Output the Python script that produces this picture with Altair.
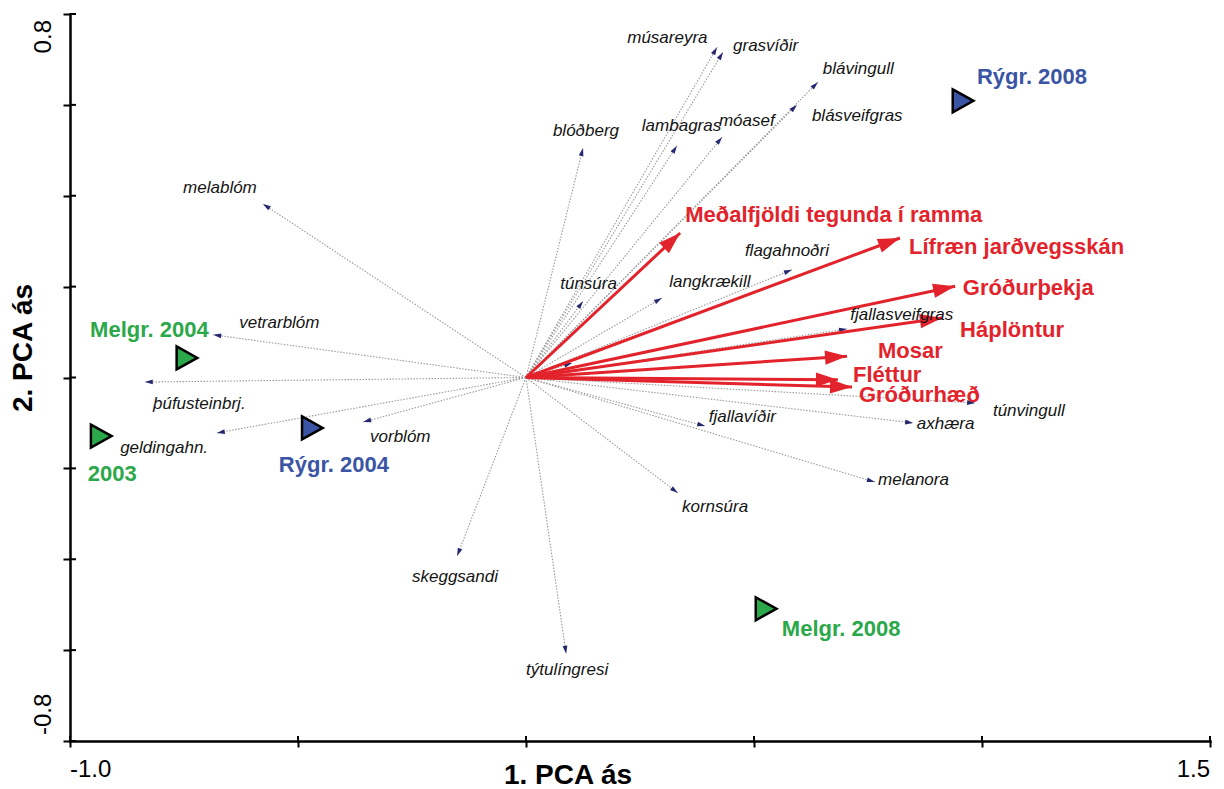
import math
import altair as alt
import pandas as pd

# ---- layout of the plot area -------------------------------------------
PLOT_W, PLOT_H = 1140, 727
X_DOMAIN = [-1.0, 1.5]
Y_DOMAIN = [-0.8, 0.8]
X_TICKS = [-1.0, -0.5, 0.0, 0.5, 1.0, 1.5]
Y_TICKS = [-0.8, -0.6, -0.4, -0.2, 0.0, 0.2, 0.4, 0.6, 0.8]

# ---- species vectors (tips) and where their names sit -------------------
species = ["músareyra", "grasvíðir", "blávingull", "blásveifgras", "blóðberg",
           "lambagras", "móasef", "melablóm", "flagahnoðri", "túnsúra",
           "langkrækill", "", "fjallasveifgras", "vetrarblóm", "þúfusteinbrj.",
           "geldingahn.", "vorblóm", "túnvingull", "axhæra", "fjallavíðir",
           "melanora", "kornsúra", "skeggsandi", "týtulíngresi"]
species_x = [0.419, 0.432, 0.640, 0.594, 0.125,
             0.331, 0.430, -0.577, 0.583, 0.125,
             0.298, 0.101, 0.704, -0.686, -0.836,
             -0.678, -0.357, 0.985, 0.849, 0.393,
             0.765, 0.333, -0.151, 0.088]
species_y = [0.727, 0.716, 0.650, 0.600, 0.505,
             0.510, 0.529, 0.382, 0.237, 0.168,
             0.175, 0.032, 0.107, 0.094, -0.010,
             -0.122, -0.098, -0.056, -0.100, -0.107,
             -0.230, -0.254, -0.393, -0.608]
species_label_x = [0.222, 0.454, 0.651, 0.627, 0.059,
                   0.254, 0.423, -0.752, 0.480, 0.075,
                   0.314, 0.101, 0.711, -0.629, -0.818,
                   -0.890, -0.342, 1.024, 0.857, 0.401,
                   0.772, 0.342, -0.250, 0.000]
species_label_y = [0.747, 0.730, 0.679, 0.576, 0.543,
                   0.554, 0.565, 0.417, 0.278, 0.206,
                   0.210, 0.032, 0.138, 0.120, -0.058,
                   -0.155, -0.131, -0.074, -0.102, -0.087,
                   -0.226, -0.285, -0.439, -0.644]

# ---- environmental variables -------------------------------------------
env_vars = ["Meðalfjöldi tegunda í ramma", "Lífræn jarðvegsskán", "Gróðurþekja",
            "Háplöntur", "Mosar", "Fléttur", "Gróðurhæð"]
env_x = [0.338, 0.820, 0.941, 0.912, 0.704, 0.684, 0.715]
env_y = [0.318, 0.307, 0.201, 0.131, 0.047, -0.005, -0.021]
env_label_x = [0.349, 0.840, 0.958, 0.952, 0.772, 0.717, 0.730]
env_label_y = [0.358, 0.287, 0.197, 0.105, 0.058, 0.006, -0.038]

# ---- sample scores ------------------------------------------------------
samples = ["Melgr. 2004", "2003", "Rýgr. 2004", "Melgr. 2008", "Rýgr. 2008"]
sample_group = ["Melgr.", "Melgr.", "Rýgr.", "Melgr.", "Rýgr."]
sample_x = [-0.746, -0.934, -0.471, 0.524, 0.956]
sample_y = [0.043, -0.129, -0.111, -0.509, 0.609]
sample_label_x = [-0.956, -0.961, -0.542, 0.561, 0.989]
sample_label_y = [0.105, -0.212, -0.193, -0.553, 0.661]

# ---- styling -------------------------------------------------------------
FONT = "Liberation Sans"
RED = "#e3232b"
GREEN = "#2ba84a"
BLUE = "#3a55a4"
NAVY = "#25286f"
GREY = "#9a9a9a"
ARROW_PATH = "M0,0L0.65,2L-0.65,2Z"        # tip sits on the data point
SMALL_ARROW_PATH = "M0,0L0.6,2L-0.6,2Z"
SAMPLE_PATH = "M-0.8,-1L1,0L-0.8,1Z"       # right-pointing triangle

xs = alt.Scale(domain=X_DOMAIN, nice=False, zero=False)
ys = alt.Scale(domain=Y_DOMAIN, nice=False, zero=False)
x_axis = alt.Axis(values=X_TICKS, labels=False, title=None, grid=False,
                  domainColor="black", domainWidth=2.5, domainCap="square",
                  tickColor="black", tickWidth=2, tickSize=6)
y_axis = alt.Axis(values=Y_TICKS, labels=False, title=None, grid=False,
                  domainColor="black", domainWidth=2.5, domainCap="square",
                  tickColor="black", tickWidth=2, tickSize=7)


def X(field):
    return alt.X(field, type="quantitative", scale=xs, axis=x_axis)


def Y(field):
    return alt.Y(field, type="quantitative", scale=ys, axis=y_axis)


def heading(x, y):
    """Clockwise screen angle (deg) of a vector drawn from the origin."""
    px = x * PLOT_W / (X_DOMAIN[1] - X_DOMAIN[0])
    py = y * PLOT_H / (Y_DOMAIN[1] - Y_DOMAIN[0])
    return math.degrees(math.atan2(px, py)) % 360


sp = pd.DataFrame({"name": species, "x": species_x, "y": species_y,
                   "lx": species_label_x, "ly": species_label_y})
sp["x0"] = 0.0
sp["y0"] = 0.0
sp["angle"] = [heading(a, b) for a, b in zip(sp.x, sp.y)]

env = pd.DataFrame({"name": env_vars, "x": env_x, "y": env_y,
                    "lx": env_label_x, "ly": env_label_y})
env["x0"] = 0.0
env["y0"] = 0.0
env["angle"] = [heading(a, b) for a, b in zip(env.x, env.y)]

smp = pd.DataFrame({"name": samples, "group": sample_group, "x": sample_x,
                    "y": sample_y, "lx": sample_label_x, "ly": sample_label_y})
group_scale = alt.Scale(domain=["Melgr.", "Rýgr."], range=[GREEN, BLUE])

# species vectors: dotted lines with small dark heads
sp_lines = alt.Chart(sp).mark_rule(color=GREY, strokeWidth=1.1,
                                   strokeDash=[1.5, 1.5]).encode(
    x=X("x0"), y=Y("y0"), x2=alt.X2("x"), y2=alt.Y2("y"))
sp_heads = alt.Chart(sp).mark_point(shape=SMALL_ARROW_PATH, size=64, filled=True,
                                    color=NAVY, opacity=1).encode(
    x=X("x"), y=Y("y"), angle=alt.Angle("angle:Q", scale=None))
sp_text = alt.Chart(sp).mark_text(align="left", baseline="middle", font=FONT,
                                  fontStyle="italic", fontSize=17,
                                  color="#141414").encode(
    x=X("lx"), y=Y("ly"), text="name:N")

# environmental vectors: red arrows
env_lines = alt.Chart(env).mark_rule(color=RED, strokeWidth=3).encode(
    x=X("x0"), y=Y("y0"), x2=alt.X2("x"), y2=alt.Y2("y"))
env_heads = alt.Chart(env).mark_point(shape=ARROW_PATH, size=484, filled=True,
                                      color=RED, opacity=1).encode(
    x=X("x"), y=Y("y"), angle=alt.Angle("angle:Q", scale=None))
env_text = alt.Chart(env).mark_text(align="left", baseline="middle", font=FONT,
                                    fontWeight="bold", fontSize=22,
                                    color=RED).encode(
    x=X("lx"), y=Y("ly"), text="name:N")

# sample scores: coloured triangles with labels
smp_marks = alt.Chart(smp).mark_point(shape=SAMPLE_PATH, size=529, filled=True,
                                      stroke="black", strokeWidth=2.5,
                                      opacity=1).encode(
    x=X("x"), y=Y("y"),
    fill=alt.Fill("group:N", scale=group_scale, legend=None))
smp_text = alt.Chart(smp).mark_text(align="left", baseline="middle", font=FONT,
                                    fontWeight="bold", fontSize=22).encode(
    x=X("lx"), y=Y("ly"), text="name:N",
    color=alt.Color("group:N", scale=group_scale, legend=None))

# inner halves of the crossing axis ticks
x_tick_in = alt.Chart(pd.DataFrame({"v": X_TICKS})).mark_rule(
    color="black", strokeWidth=2).encode(
    x=X("v"), y=alt.value(PLOT_H - 5), y2=alt.value(PLOT_H))
y_tick_in = alt.Chart(pd.DataFrame({"v": Y_TICKS})).mark_rule(
    color="black", strokeWidth=2).encode(
    y=Y("v"), x=alt.value(0), x2=alt.value(6))

# end labels of the axes
x_lab_lo = alt.Chart(pd.DataFrame({"v": [X_DOMAIN[0]], "t": ["-1.0"]})).mark_text(
    align="left", baseline="middle", font=FONT, fontSize=24, color="black").encode(
    x=X("v"), y=alt.value(756), text="t:N")
x_lab_hi = alt.Chart(pd.DataFrame({"v": [X_DOMAIN[1]], "t": ["1.5"]})).mark_text(
    align="right", baseline="middle", font=FONT, fontSize=24, color="black").encode(
    x=X("v"), y=alt.value(756), text="t:N")
y_lab_hi = alt.Chart(pd.DataFrame({"t": ["0.8"]})).mark_text(
    align="right", baseline="middle", angle=270, font=FONT, fontSize=24,
    color="black").encode(x=alt.value(-26), y=alt.value(6), text="t:N")
y_lab_lo = alt.Chart(pd.DataFrame({"t": ["-0.8"]})).mark_text(
    align="left", baseline="middle", angle=270, font=FONT, fontSize=24,
    color="black").encode(x=alt.value(-26), y=alt.value(721), text="t:N")

# axis titles
x_title = alt.Chart(pd.DataFrame({"t": ["1. PCA ás"]})).mark_text(
    align="center", baseline="middle", font=FONT, fontWeight="bold",
    fontSize=28, color="black").encode(
    x=alt.value(498), y=alt.value(762), text="t:N")
y_title = alt.Chart(pd.DataFrame({"t": ["2.  PCA ás"]})).mark_text(
    align="center", baseline="middle", angle=270, font=FONT, fontWeight="bold",
    fontSize=28, color="black").encode(
    x=alt.value(-46), y=alt.value(334), text="t:N")

chart = alt.layer(
    sp_lines, sp_heads, env_lines, env_heads,
    sp_text, env_text, smp_marks, smp_text,
    x_tick_in, y_tick_in, x_lab_lo, x_lab_hi, y_lab_hi, y_lab_lo,
    x_title, y_title,
).properties(
    width=PLOT_W, height=PLOT_H,
    autosize=alt.AutoSizeParams(type="none"),
    padding={"left": 70, "top": 14, "right": 14, "bottom": 48},
    background="white",
).configure_view(strokeWidth=0)

chart.save("out.html", embed_options={"renderer": "svg", "actions": False})
